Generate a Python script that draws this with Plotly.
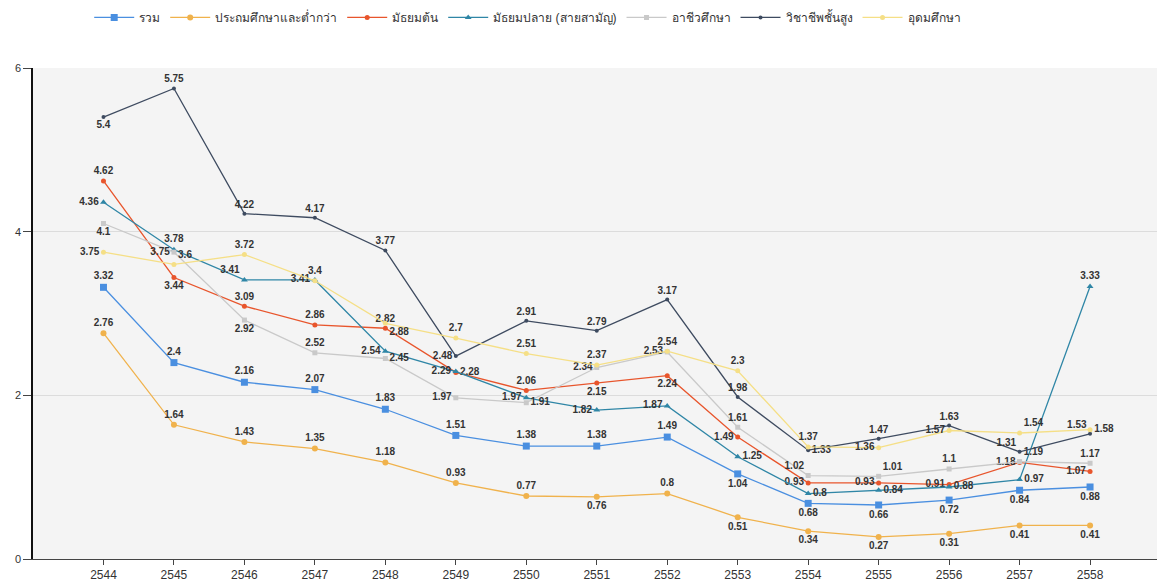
import plotly.graph_objects as go

years = ["2544", "2545", "2546", "2547", "2548", "2549", "2550", "2551",
         "2552", "2553", "2554", "2555", "2556", "2557", "2558"]

series_names = ["รวม", "ประถมศึกษาและต่ำกว่า", "มัธยมต้น", "มัธยมปลาย (สายสามัญ)",
                "อาชีวศึกษา", "วิชาชีพชั้นสูง", "อุดมศึกษา"]

total = [3.32, 2.4, 2.16, 2.07, 1.83, 1.51, 1.38, 1.38, 1.49, 1.04, 0.68, 0.66, 0.72, 0.84, 0.88]
primary = [2.76, 1.64, 1.43, 1.35, 1.18, 0.93, 0.77, 0.76, 0.8, 0.51, 0.34, 0.27, 0.31, 0.41, 0.41]
lower_sec = [4.62, 3.44, 3.09, 2.86, 2.82, 2.28, 2.06, 2.15, 2.24, 1.49, 0.93, 0.93, 0.91, 1.18, 1.07]
upper_sec = [4.36, 3.78, 3.41, 3.41, 2.54, 2.29, 1.97, 1.82, 1.87, 1.25, 0.8, 0.84, 0.88, 0.97, 3.33]
vocational = [4.1, 3.75, 2.92, 2.52, 2.45, 1.97, 1.91, 2.34, 2.53, 1.61, 1.02, 1.01, 1.1, 1.19, 1.17]
high_voc = [5.4, 5.75, 4.22, 4.17, 3.77, 2.48, 2.91, 2.79, 3.17, 1.98, 1.33, 1.47, 1.63, 1.31, 1.53]
higher = [3.75, 3.6, 3.72, 3.4, 2.88, 2.7, 2.51, 2.37, 2.54, 2.3, 1.37, 1.36, 1.57, 1.54, 1.58]

values = [total, primary, lower_sec, upper_sec, vocational, high_voc, higher]

# styles
colors = ["#4a8fe0", "#f0b24c", "#e8552c", "#2f86a6", "#c9c9c9", "#3e4b60", "#f5df86"]
symbols = ["square", "circle", "circle", "triangle-up", "square", "circle", "circle"]
msizes = [7, 6, 5, 6, 5, 4, 5]

T, B, L, R = "top center", "bottom center", "middle left", "middle right"
TL, TR, BR = "top left", "top right", "bottom right"
positions = [
    [T, T, T, T, T, T, T, T, T, B, B, B, B, B, B],
    [T, T, T, T, T, T, T, B, T, B, B, B, B, B, B],
    [T, B, T, T, T, R, T, B, B, L, L, L, L, L, L],
    [L, T, TL, L, L, L, L, L, L, R, R, R, R, R, T],
    [B, L, B, T, R, L, R, L, L, T, TL, TR, T, TR, T],
    [B, T, T, T, T, L, T, T, T, T, R, T, T, TL, TL],
    [L, TR, T, T, BR, T, T, T, T, T, T, L, L, TR, R],
]

fig = go.Figure()
for name, vals, col, sym, ms, pos in zip(series_names, values, colors, symbols, msizes, positions):
    fig.add_trace(go.Scatter(
        x=years, y=vals, name=name, mode="lines+markers+text",
        line=dict(color=col, width=1.3),
        marker=dict(color=col, symbol=sym, size=ms),
        text=[f"{v:g}" for v in vals], textposition=pos,
        textfont=dict(family="Liberation Sans, Arial, sans-serif", size=10, color="#333333", weight="bold"),
        cliponaxis=False,
    ))

fig.update_layout(
    width=1161, height=585,
    margin=dict(l=33, r=4, t=68, b=26),
    paper_bgcolor="white", plot_bgcolor="#f4f4f4",
    font=dict(family="Liberation Sans, Noto Sans, sans-serif", size=11, color="#333333"),
    showlegend=True,
    legend=dict(orientation="h", x=0.05, xanchor="left", y=0.995, yanchor="top",
                yref="container", font=dict(size=12, color="#333333"),
                itemwidth=40, tracegroupgap=0),
    xaxis=dict(type="category", range=[-1, 14.95], showgrid=False,
               showline=True, linecolor="#444444", linewidth=1,
               ticks="outside", ticklen=5, tickcolor="#444444",
               tickfont=dict(size=12, color="#333333")),
    yaxis=dict(range=[0, 6], tickvals=[0, 2, 4, 6], showgrid=True, gridcolor="#dcdcdc",
               showline=True, linecolor="#111111", linewidth=1.5,
               ticks="outside", ticklen=8, tickcolor="#444444", zeroline=False,
               tickfont=dict(size=11, color="#333333")),
)

fig.write_html("out.html", config={"displayModeBar": False},
               post_script="document.body.style.margin='0';document.body.style.padding='0';")
